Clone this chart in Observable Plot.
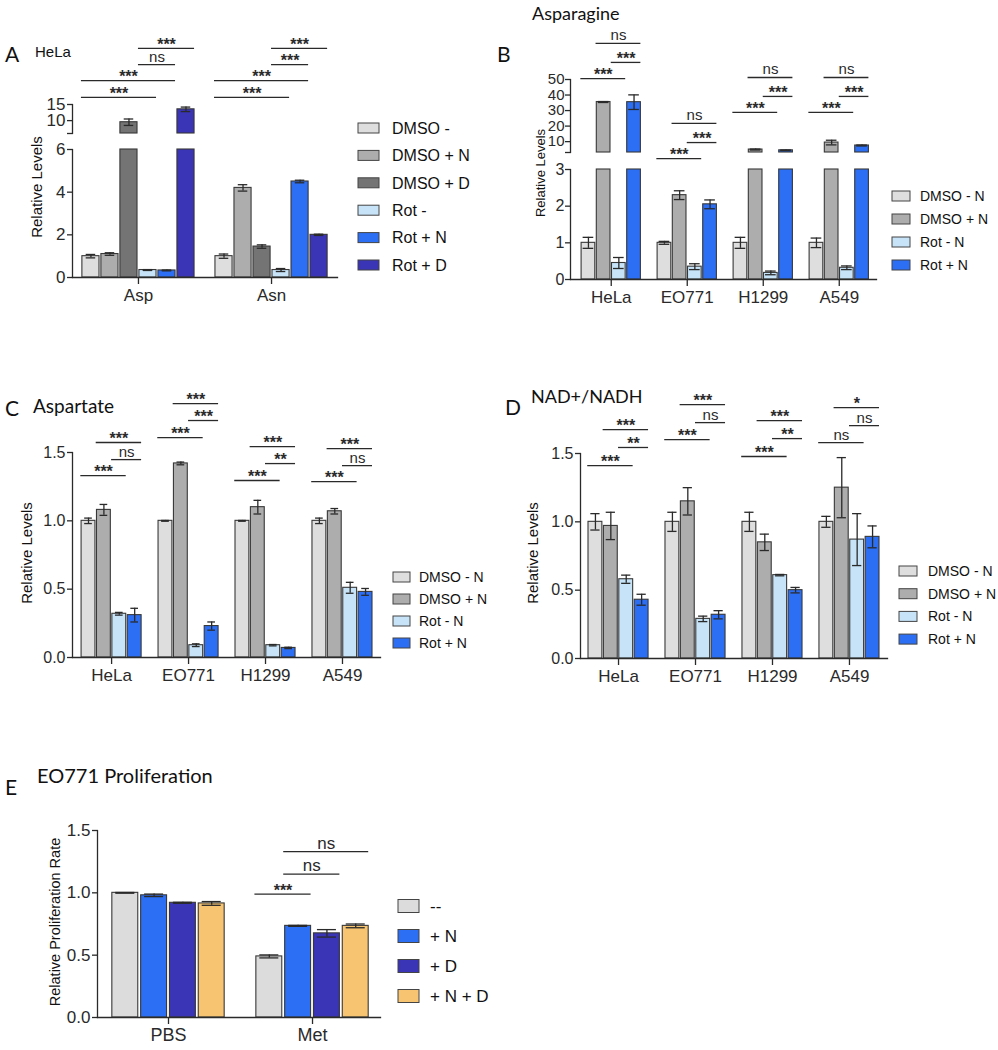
<!DOCTYPE html>
<html><head><meta charset="utf-8">
<script src="https://cdn.jsdelivr.net/npm/d3@7"></script>
<script src="https://cdn.jsdelivr.net/npm/@observablehq/plot@0.6"></script>
<style>
body{margin:0;background:#fff;}
#root{position:relative;width:998px;height:1050px;overflow:hidden;font-family:Arial,"Liberation Sans",sans-serif;}
.pl{position:absolute;}
.pl svg{overflow:visible;background:transparent;}
#overlay{position:absolute;left:0;top:0;pointer-events:none;}
</style></head><body><div id="root"></div>
<script>
// ---------------- DATA ----------------
// Panel A (HeLa)
const groupsA = ["Asp", "Asn"];
const seriesA = ["DMSO -", "DMSO + N", "DMSO + D", "Rot -", "Rot + N", "Rot + D"];
const colorsA = ["#dedede", "#adadad", "#747474", "#c6e3f8", "#2c6ff5", "#3a34b7"];
const valuesA = [[1.0, 1.1, 9.5, 0.35, 0.33, 13.5], [1.0, 4.2, 1.45, 0.35, 4.5, 2.0]];
const errorsA = [[0.08, 0.06, 1.0, 0.02, 0.02, 0.7], [0.1, 0.15, 0.08, 0.07, 0.06, 0.03]];
const bracketsA = [
  {g: 0, a: 0, b: 3, level: 17.2, label: "***"}, {g: 0, a: 0, b: 4, level: 22.4, label: "***"},
  {g: 0, a: 3, b: 4, level: 27.4, label: "ns"}, {g: 0, a: 3, b: 5, level: 32.4, label: "***"},
  {g: 1, a: 0, b: 3, level: 17.2, label: "***"}, {g: 1, a: 0, b: 4, level: 22.4, label: "***"},
  {g: 1, a: 3, b: 4, level: 27.4, label: "***"}, {g: 1, a: 3, b: 5, level: 32.4, label: "***"}
];
const ticksA_bottom = [0, 2, 4, 6];
const ticksA_top = [6, 10, 15];

// Panel B (Asparagine)
const groupsB = ["HeLa", "EO771", "H1299", "A549"];
const seriesB = ["DMSO - N", "DMSO + N", "Rot - N", "Rot + N"];
const colorsB = ["#dedede", "#adadad", "#c6e3f8", "#2c6ff5"];
const valuesB = [[1.0, 35.5, 0.45, 35.4], [1.0, 2.3, 0.35, 2.05], [1.0, 4.9, 0.18, 4.4], [1.0, 9.4, 0.32, 7.5]];
const errorsB = [[0.15, 0.3, 0.15, 4.7], [0.04, 0.12, 0.08, 0.12], [0.15, 0.3, 0.05, 0.2], [0.13, 1.5, 0.05, 0.3]];
const bracketsB = [
  {g: 0, a: 0, b: 2, level: 50.6, label: "***"}, {g: 0, a: 2, b: 3, level: 61, label: "***"}, {g: 0, a: 1, b: 3, level: 73.2, label: "ns"},
  {g: 1, a: 0, b: 2, level: -0.9, label: "***"}, {g: 1, a: 2, b: 3, level: 9.4, label: "***"}, {g: 1, a: 1, b: 3, level: 21.7, label: "ns"},
  {g: 2, a: 0, b: 2, level: 28.8, label: "***"}, {g: 2, a: 2, b: 3, level: 39.1, label: "***"}, {g: 2, a: 1, b: 3, level: 51.3, label: "ns"},
  {g: 3, a: 0, b: 2, level: 28.8, label: "***"}, {g: 3, a: 2, b: 3, level: 39.1, label: "***"}, {g: 3, a: 1, b: 3, level: 51.3, label: "ns"}
];
const ticksB_bottom = [0, 1, 2, 3];
const ticksB_top = [3, 10, 20, 30, 40, 50];

// Panel C (Aspartate)
const groupsC = ["HeLa", "EO771", "H1299", "A549"];
const seriesC = ["DMSO - N", "DMSO + N", "Rot - N", "Rot + N"];
const colorsC = ["#dedede", "#adadad", "#c6e3f8", "#2c6ff5"];
const valuesC = [[1.0, 1.08, 0.32, 0.31], [1.0, 1.42, 0.09, 0.23], [1.0, 1.10, 0.09, 0.07], [1.0, 1.07, 0.51, 0.48]];
const errorsC = [[0.02, 0.04, 0.01, 0.05], [0.003, 0.01, 0.01, 0.03], [0.003, 0.05, 0.005, 0.005], [0.02, 0.02, 0.04, 0.025]];
const bracketsC = [
  {g: 0, a: 0, b: 2, level: 1.331, label: "***"}, {g: 0, a: 2, b: 3, level: 1.448, label: "ns"}, {g: 0, a: 1, b: 3, level: 1.573, label: "***"},
  {g: 1, a: 0, b: 2, level: 1.609, label: "***"}, {g: 1, a: 2, b: 3, level: 1.734, label: "***"}, {g: 1, a: 1, b: 3, level: 1.858, label: "***"},
  {g: 2, a: 0, b: 2, level: 1.295, label: "***"}, {g: 2, a: 2, b: 3, level: 1.419, label: "**"}, {g: 2, a: 1, b: 3, level: 1.543, label: "***"},
  {g: 3, a: 0, b: 2, level: 1.287, label: "***"}, {g: 3, a: 2, b: 3, level: 1.404, label: "ns"}, {g: 3, a: 1, b: 3, level: 1.529, label: "***"}
];
const ticksC = [0, 0.5, 1.0, 1.5];

// Panel D (NAD+/NADH)
const groupsD = ["HeLa", "EO771", "H1299", "A549"];
const seriesD = ["DMSO - N", "DMSO + N", "Rot - N", "Rot + N"];
const colorsD = ["#dedede", "#adadad", "#c6e3f8", "#2c6ff5"];
const valuesD = [[1.0, 0.97, 0.58, 0.43], [1.0, 1.15, 0.29, 0.32], [1.0, 0.85, 0.61, 0.50], [1.0, 1.25, 0.87, 0.89]];
const errorsD = [[0.06, 0.1, 0.03, 0.04], [0.07, 0.1, 0.02, 0.03], [0.07, 0.06, 0.005, 0.02], [0.04, 0.22, 0.19, 0.08]];
const bracketsD = [
  {g: 0, a: 0, b: 2, level: 1.412, label: "***"}, {g: 0, a: 2, b: 3, level: 1.544, label: "**"}, {g: 0, a: 1, b: 3, level: 1.675, label: "***"},
  {g: 1, a: 0, b: 2, level: 1.602, label: "***"}, {g: 1, a: 2, b: 3, level: 1.726, label: "ns"}, {g: 1, a: 1, b: 3, level: 1.858, label: "***"},
  {g: 2, a: 0, b: 2, level: 1.478, label: "***"}, {g: 2, a: 2, b: 3, level: 1.609, label: "**"}, {g: 2, a: 1, b: 3, level: 1.741, label: "***"},
  {g: 3, a: 0, b: 2, level: 1.580, label: "ns"}, {g: 3, a: 2, b: 3, level: 1.704, label: "ns"}, {g: 3, a: 1, b: 3, level: 1.836, label: "*"}
];
const ticksD = [0, 0.5, 1.0, 1.5];

// Panel E (EO771 Proliferation)
const groupsE = ["PBS", "Met"];
const seriesE = ["--", "+ N", "+ D", "+ N + D"];
const colorsE = ["#dcdcdc", "#2c6ff5", "#3a34b7", "#f7c572"];
const valuesE = [[1.0, 0.98, 0.92, 0.915], [0.49, 0.735, 0.675, 0.735]];
const errorsE = [[0.003, 0.01, 0.004, 0.015], [0.012, 0.004, 0.03, 0.015]];
const bracketsE = [
  {g: 1, a: 0, b: 1, level: 0.99, label: "***"}, {g: 1, a: 1, b: 2, level: 1.15, label: "ns"}, {g: 1, a: 1, b: 3, level: 1.33, label: "ns"}
];
const ticksE = [0, 0.5, 1.0, 1.5];

// ---------------- HELPERS ----------------
const INK = "#2a2a2a";
const FONT = "Arial, 'Liberation Sans', sans-serif";
const root = document.getElementById("root");

function rowsOf(groups, series, values, errors) {
  const slot = series.length + 1;
  return groups.flatMap((g, gi) => series.map((s, si) => ({
    group: g, series: s, value: values[gi][si], err: errors[gi][si], pos: gi * slot + si
  })));
}
function bracketRows(brackets, series) {
  const slot = series.length + 1;
  return brackets.map(b => {
    const x1 = b.g * slot + b.a - 0.5, x2 = b.g * slot + b.b + 0.45;
    return {...b, x1, x2, xm: (x1 + x2) / 2};
  });
}
function groupCenters(groups, series) {
  const slot = series.length + 1;
  return groups.map((g, gi) => gi * slot + (series.length - 1) / 2);
}

function barMarks(rows, yLo, yHi, cap) {
  const vis = rows.filter(d => d.value > yLo);
  const err = rows.filter(d => d.value > yLo && d.value <= yHi);
  return [
    Plot.rectY(vis, {x1: d => d.pos - 0.45, x2: d => d.pos + 0.45, y1: yLo, y2: d => Math.min(d.value, yHi),
      fill: "series", stroke: "#383838", strokeWidth: 1.1}),
    Plot.ruleX(err, {x: "pos", y1: d => d.value - d.err, y2: d => d.value + d.err, stroke: INK, strokeWidth: 1.3}),
    Plot.ruleY(err, {y: d => d.value + d.err, x1: d => d.pos - cap, x2: d => d.pos + cap, stroke: INK, strokeWidth: 1.3}),
    Plot.ruleY(err, {y: d => d.value - d.err, x1: d => d.pos - cap, x2: d => d.pos + cap, stroke: INK, strokeWidth: 1.3})
  ];
}
function bracketMarks(br, starSize, nsSize) {
  const stars = br.filter(d => d.label.startsWith("*"));
  const other = br.filter(d => !d.label.startsWith("*"));
  return [
    Plot.ruleY(br, {y: "level", x1: "x1", x2: "x2", stroke: INK, strokeWidth: 1.3}),
    Plot.text(stars, {x: "xm", y: "level", text: "label", lineAnchor: "bottom", dy: 1.5, fontSize: starSize, fontWeight: "bold", fill: INK}),
    Plot.text(other, {x: "xm", y: "level", text: "label", lineAnchor: "bottom", dy: -3, fontSize: nsSize, fill: INK})
  ];
}

function place(lay, opts) {
  const [x0, x1, y0, y1] = lay.frame;
  const svg = Plot.plot({
    width: lay.width, height: lay.height,
    marginLeft: x0 - lay.left, marginRight: lay.left + lay.width - x1,
    marginTop: y0 - lay.top, marginBottom: lay.top + lay.height - y1,
    style: {fontFamily: FONT, color: INK, background: "transparent", overflow: "visible"},
    ...opts
  });
  const div = document.createElement("div");
  div.className = "pl";
  div.style.left = lay.left + "px";
  div.style.top = lay.top + "px";
  div.appendChild(svg);
  root.appendChild(div);
}

function yAxis(ticks, fmt, size, pad = 3) {
  return [
    Plot.axisY({ticks, tickFormat: fmt, tickSize: 5, tickPadding: pad, fontSize: size, label: null, stroke: INK, strokeWidth: 1.3}),
    Plot.frame({anchor: "left", stroke: INK, strokeWidth: 1.3})
  ];
}
function xAxis(groups, series, size) {
  const centers = groupCenters(groups, series);
  return [
    Plot.axisX({ticks: centers, tickFormat: d => groups[centers.indexOf(d)], tickSize: 7, tickPadding: 4,
      fontSize: size, label: null, stroke: INK, strokeWidth: 1.3}),
    Plot.frame({anchor: "bottom", stroke: INK, strokeWidth: 1.3})
  ];
}

// ---------------- PANEL A ----------------
{
  const rows = rowsOf(groupsA, seriesA, valuesA, errorsA);
  const color = {domain: seriesA, range: colorsA};
  const xd = [-0.97, 12.97];
  place({left: 0, top: 0, width: 345, height: 140, frame: [72, 337, 104, 133]}, {
    x: {domain: xd, axis: null}, y: {domain: [6, 15]}, color,
    marks: [
      ...barMarks(rows, 6, 15, 0.25),
      ...yAxis(ticksA_top, d => d === 6 ? "" : d, 17, 2),
      ...bracketMarks(bracketRows(bracketsA, seriesA), 16, 15)
    ]
  });
  place({left: 0, top: 140, width: 345, height: 180, frame: [72, 337, 149, 277]}, {
    x: {domain: xd}, y: {domain: [0, 6]}, color,
    marks: [
      ...barMarks(rows, 0, 6, 0.25),
      ...yAxis(ticksA_bottom, d => d, 17, 2),
      ...xAxis(groupsA, seriesA, 17)
    ]
  });
}
// ---------------- PANEL B ----------------
{
  const rows = rowsOf(groupsB, seriesB, valuesB, errorsB);
  const color = {domain: seriesB, range: colorsB};
  const xd = [-1.18, 18.95];
  place({left: 480, top: 0, width: 410, height: 168, frame: [570, 876, 79, 152]}, {
    x: {domain: xd, axis: null}, y: {domain: [3, 50]}, color,
    marks: [
      ...barMarks(rows, 3, 50, 0.35),
      ...yAxis(ticksB_top, d => d === 3 ? "" : d, 15, 1),
      ...bracketMarks(bracketRows(bracketsB, seriesB), 16, 15)
    ]
  });
  place({left: 480, top: 160, width: 410, height: 160, frame: [570, 876, 169, 279]}, {
    x: {domain: xd}, y: {domain: [0, 3]}, color,
    marks: [
      ...barMarks(rows, 0, 3, 0.35),
      ...yAxis(ticksB_bottom, d => d, 16, 1),
      ...xAxis(groupsB, seriesB, 17)
    ]
  });
}
// ---------------- PANEL C ----------------
{
  const rows = rowsOf(groupsC, seriesC, valuesC, errorsC);
  place({left: 0, top: 380, width: 390, height: 320, frame: [72, 380, 452, 657]}, {
    x: {domain: [-1.04, 18.97]}, y: {domain: [0, 1.5]}, color: {domain: seriesC, range: colorsC},
    marks: [
      ...barMarks(rows, 0, 1.5, 0.25),
      ...yAxis(ticksC, d3.format(".1f"), 16, 2),
      ...xAxis(groupsC, seriesC, 17),
      ...bracketMarks(bracketRows(bracketsC, seriesC), 16, 15)
    ]
  });
}
// ---------------- PANEL D ----------------
{
  const rows = rowsOf(groupsD, seriesD, valuesD, errorsD);
  place({left: 480, top: 380, width: 420, height: 320, frame: [580, 887, 453, 658]}, {
    x: {domain: [-0.97, 18.97]}, y: {domain: [0, 1.5]}, color: {domain: seriesD, range: colorsD},
    marks: [
      ...barMarks(rows, 0, 1.5, 0.3),
      ...yAxis(ticksD, d3.format(".1f"), 16, 2),
      ...xAxis(groupsD, seriesD, 17),
      ...bracketMarks(bracketRows(bracketsD, seriesD), 16, 15)
    ]
  });
}
// ---------------- PANEL E ----------------
{
  const rows = rowsOf(groupsE, seriesE, valuesE, errorsE);
  place({left: 0, top: 760, width: 392, height: 290, frame: [97, 380, 830, 1017]}, {
    x: {domain: [-0.965, 8.86]}, y: {domain: [0, 1.5]}, color: {domain: seriesE, range: colorsE},
    marks: [
      ...barMarks(rows, 0, 1.5, 0.33),
      ...yAxis(ticksE, d3.format(".1f"), 17, 2),
      ...xAxis(groupsE, seriesE, 18),
      ...bracketMarks(bracketRows(bracketsE, seriesE), 16, 17)
    ]
  });
}

// ---------------- TEXT OVERLAY: letters, titles, y labels, legends ----------------
const layout = {
  letters: [
    {t: "A", x: 5, y: 62}, {t: "B", x: 497, y: 62}, {t: "C", x: 5, y: 416}, {t: "D", x: 505, y: 415}, {t: "E", x: 5, y: 795}
  ],
  titles: [
    {t: "HeLa", x: 35, y: 57, size: 15, font: FONT},
    {t: "Asparagine", x: 532, y: 20, size: 18, font: "Lato, sans-serif"},
    {t: "Aspartate", x: 33, y: 413, size: 19, font: "Lato, sans-serif"},
    {t: "NAD+/NADH", x: 531, y: 403, size: 18, font: "Lato, sans-serif"},
    {t: "EO771 Proliferation", x: 37, y: 783, size: 20, font: "Lato, sans-serif"}
  ],
  ylabels: [
    {t: "Relative Levels", x: 42, y: 187, size: 15},
    {t: "Relative Levels", x: 545, y: 173, size: 13},
    {t: "Relative Levels", x: 32, y: 553, size: 15},
    {t: "Relative Levels", x: 538, y: 553, size: 15},
    {t: "Relative Proliferation Rate", x: 60, y: 922, size: 14.5}
  ],
  legends: [
    {series: seriesA, colors: colorsA, x: 358, y: 128, step: 27.4, w: 21, h: 10, tx: 392, size: 16},
    {series: seriesB, colors: colorsB, x: 892, y: 196, step: 23, w: 18, h: 10, tx: 920, size: 14},
    {series: seriesC, colors: colorsC, x: 393, y: 577, step: 22, w: 17, h: 10, tx: 419, size: 14},
    {series: seriesD, colors: colorsD, x: 899, y: 571, step: 22.7, w: 18, h: 10, tx: 928, size: 14},
    {series: seriesE, colors: colorsE, x: 398, y: 906, step: 30, w: 21, h: 13, tx: 430, size: 17}
  ]
};

const ov = d3.create("svg").attr("id", "overlay").attr("width", 998).attr("height", 1050);
ov.selectAll("text.letter").data(layout.letters).join("text")
  .attr("x", d => d.x).attr("y", d => d.y).text(d => d.t)
  .attr("font-family", "Lato, sans-serif").attr("font-size", 21).attr("fill", "#111");
ov.selectAll("text.title").data(layout.titles).join("text")
  .attr("x", d => d.x).attr("y", d => d.y).text(d => d.t)
  .attr("font-family", d => d.font).attr("font-size", d => d.size).attr("fill", "#111");
ov.selectAll("text.ylab").data(layout.ylabels).join("text")
  .attr("transform", d => `translate(${d.x},${d.y}) rotate(-90)`).attr("text-anchor", "middle")
  .text(d => d.t).attr("font-family", FONT).attr("font-size", d => d.size).attr("fill", "#111");
for (const L of layout.legends) {
  const g = ov.append("g");
  L.series.forEach((s, i) => {
    const cy = L.y + i * L.step;
    g.append("rect").attr("x", L.x).attr("y", cy - L.h / 2).attr("width", L.w).attr("height", L.h)
      .attr("fill", L.colors[i]).attr("stroke", "#444").attr("stroke-width", 1);
    g.append("text").attr("x", L.tx).attr("y", cy).attr("dy", "0.36em").text(s)
      .attr("font-family", FONT).attr("font-size", L.size).attr("fill", "#111");
  });
}
root.appendChild(ov.node());
</script>
</body></html>
